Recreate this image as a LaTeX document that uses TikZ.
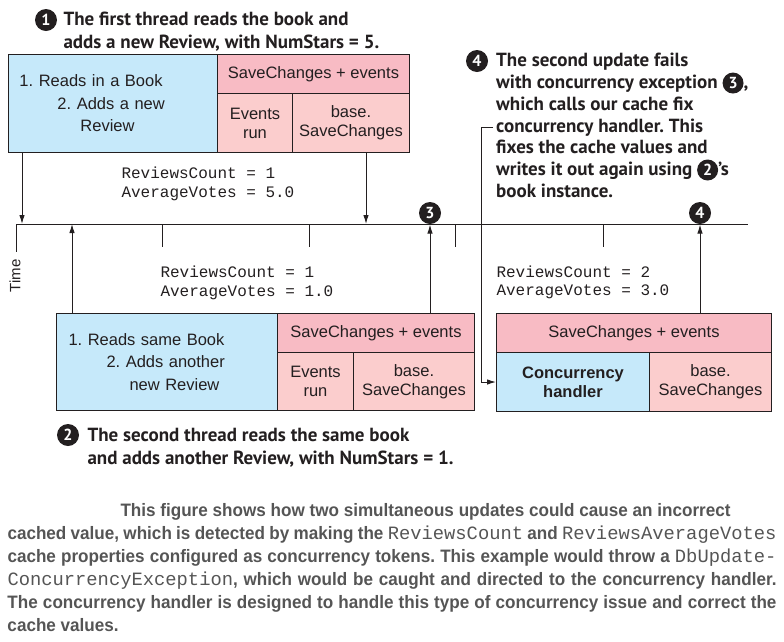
\documentclass[tikz,border=0pt]{standalone}
\usepackage{fontspec}
\setmainfont{Liberation Sans}
\newfontfamily\calloutfont{PT Sans}
\newfontfamily\codefont{Liberation Mono}
\newfontfamily\capfont[FakeStretch=0.95]{Liberation Sans}
\usetikzlibrary{arrows.meta}
\frenchspacing

\definecolor{ink}{HTML}{231F20}
\definecolor{boxblue}{HTML}{C6E9FA}
\definecolor{headpink}{HTML}{F8BBC4}
\definecolor{cellpink}{HTML}{FBCDCD}
\definecolor{capgray}{HTML}{555555}

\newcommand\cnum[1]{\tikz[baseline=(cn.base)]\node[circle,fill=ink,text=white,inner sep=0pt,minimum size=21pt,font=\calloutfont\bfseries\fontsize{16}{16}\selectfont] (cn) {#1};}
\newcommand\capcode[1]{{\codefont\mdseries\fontsize{18.8}{23}\selectfont #1}}

\begin{document}
\begin{tikzpicture}[x=1pt,y=-1pt,line width=1pt,color=ink,
  cell/.style={draw,inner sep=0pt,anchor=north west,align=center,font=\fontsize{16.5}{19}\selectfont},
  reads/.style={cell,fill=boxblue,align=left,font=\fontsize{16.5}{22.5}\selectfont},
  head/.style={cell,fill=headpink,minimum height=39pt},
  sub/.style={cell,fill=cellpink},
  vals/.style={anchor=west,align=left,inner sep=0pt,font=\codefont\fontsize{16}{18.5}\selectfont},
  calltext/.style={anchor=north west,align=left,inner sep=0pt,font=\calloutfont\bfseries\fontsize{19}{22.5}\selectfont},
  callnum/.style={circle,fill=ink,text=white,inner sep=0pt,minimum size=22pt,font=\calloutfont\bfseries\fontsize{16}{16}\selectfont},
  arr/.style={-{Latex[length=9pt,width=5.5pt]}}]
\useasboundingbox (0,0) rectangle (784,641);

% thread 1
\node[callnum] (n1) at (46,20) {1};
\node[calltext] (co1) at (63,12) {The first thread reads the book and\\adds a new Review, with NumStars = 5.};
\node[reads,minimum width=209pt,minimum height=98pt,text width=187pt] (rd1) at (8,54) {1. Reads in a Book\\\hspace*{38pt}2. Adds a new\\\hspace*{61pt}Review};
\node[head,minimum width=192pt] (sc1) at (217,54) {SaveChanges + events};
\node[sub,minimum width=75pt,minimum height=59pt] (ev1) at (217,93) {Events\\run};
\node[sub,minimum width=117pt,minimum height=59pt] (bs1) at (292,93) {base.\\SaveChanges};
\node[vals] (v1) at (121,184) {ReviewsCount = 1\\AverageVotes = 5.0};

% time line
\coordinate (tl0) at (16,224);
\coordinate (tl1) at (748,224);
\draw (tl0) -- (tl1);
\draw (tl0) -- ++(0,28);
\foreach \tx in {162,309,455,603} \draw (\tx,224) -- (\tx,247);
\node[rotate=90,inner sep=0pt,font=\fontsize{15}{15}\selectfont] (time) at (15,276) {Time};
\coordinate (t1) at (22,224);
\coordinate (t2) at (366,224);
\coordinate (t3) at (72,224);
\node[callnum] (n3) at (430,213) {3};
\node[callnum] (n4) at (700,213) {4};

% thread 2
\node[vals] (v2) at (160,283) {ReviewsCount = 1\\AverageVotes = 1.0};
\node[reads,minimum width=221pt,minimum height=97pt,text width=197pt] (rd2) at (56,313) {1. Reads same Book\\\hspace*{38pt}2. Adds another\\\hspace*{61pt}new Review};
\node[head,minimum width=197pt] (sc2) at (277,313) {SaveChanges + events};
\node[sub,minimum width=76pt,minimum height=58pt] (ev2) at (277,352) {Events\\run};
\node[sub,minimum width=121pt,minimum height=58pt] (bs2) at (353,352) {base.\\SaveChanges};
\node[callnum] (n2) at (68,435) {2};
\node[calltext] (co2) at (87,428) {The second thread reads the same book\\and adds another Review, with NumStars = 1.};

% retry after the exception
\node[callnum] (n4b) at (477,61) {4};
\node[calltext,font=\calloutfont\bfseries\fontsize{19}{21.8}\selectfont] (co4) at (496,53) {The second update fails\\with concurrency exception \cnum{3},\\which calls our cache fix\\concurrency handler. This\\fixes the cache values and\\writes it out again using \cnum{2}’s\\book instance.};
\node[vals] (v3) at (496,282.5) {ReviewsCount = 2\\AverageVotes = 3.0};
\node[head,minimum width=275pt] (sc3) at (496,313) {SaveChanges + events};
\node[cell,fill=boxblue,minimum width=153pt,minimum height=59pt,font=\bfseries\fontsize{16.5}{19}\selectfont] (hdl) at (496,352) {Concurrency\\handler};
\node[sub,minimum width=122pt,minimum height=59pt] (bs3) at (649,352) {base.\\SaveChanges};

% connectors
\draw[arr] (t1 |- rd1.south) -- (t1);
\draw[arr] (t2 |- bs1.south) -- (t2);
\draw[arr] (t3 |- rd2.north) -- (t3);
\draw[arr] (n3.south |- sc2.north) -- (n3.south);
\draw[arr] (n4.south |- sc3.north) -- (n4.south);
\coordinate (brk) at (481,127);
\draw[arr] ([xshift=-3pt]co4.west |- brk) -- (brk) |- (hdl.west);

% caption
\node[anchor=north west,inner sep=0pt,text width=769pt,align=justify,text=capgray,
  font=\capfont\bfseries\fontsize{18}{23}\selectfont] (cap) at (7,503) {\noindent\hspace*{113pt}This figure shows how two simultaneous updates could cause an incorrect\\
cached value, which is detected by making the \capcode{ReviewsCount} and \capcode{ReviewsAverageVotes}\linebreak
cache properties configured as concurrency tokens. This example would throw a \capcode{DbUpdate-}\linebreak
\capcode{ConcurrencyException}, which would be caught and directed to the concurrency handler.\linebreak
The concurrency handler is designed to handle this type of concurrency issue and correct the\linebreak
cache values.};
\end{tikzpicture}
\end{document}
